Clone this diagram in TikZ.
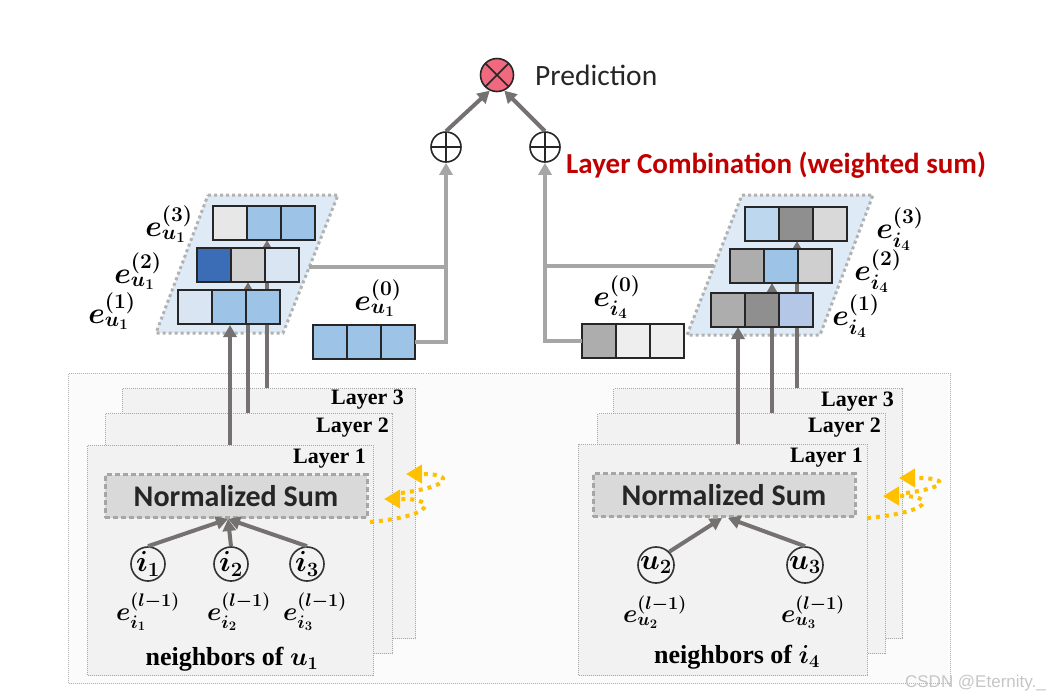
\RequirePackage{fix-cm}
\documentclass[tikz,border=0pt]{standalone}
\usepackage{fontspec}
\usepackage{amsmath}
\usepackage{bm}
\usetikzlibrary{positioning,calc,arrows.meta}
\newfontfamily\calibfont{Carlito}
\newfontfamily\markfont{Liberation Sans}
\newfontfamily\labelfont{Liberation Serif}

\definecolor{blueL}{HTML}{9DC3E6}
\definecolor{blueP}{HTML}{DAE5F3}
\definecolor{blueD}{HTML}{3A6DB5}
\definecolor{blueS}{HTML}{BDD7EE}
\definecolor{blueG}{HTML}{B4C7E7}
\definecolor{grayA}{HTML}{E7E7E7}
\definecolor{grayB}{HTML}{D0D0D0}
\definecolor{grayC}{HTML}{8F8F8F}
\definecolor{grayD}{HTML}{D9D9D9}
\definecolor{grayE}{HTML}{ADADAD}
\definecolor{grayF}{HTML}{CFCFCF}
\definecolor{grayG}{HTML}{EEEEEE}
\definecolor{stackfill}{HTML}{DEEBF7}
\definecolor{sumfill}{HTML}{D9D9D9}
\definecolor{sumedge}{HTML}{A6A6A6}
\definecolor{arrowgray}{HTML}{767171}
\definecolor{combgray}{HTML}{A6A6A6}
\definecolor{yellowarr}{HTML}{FFC000}
\definecolor{predfill}{HTML}{F0697E}
\definecolor{combred}{HTML}{C00000}

\tikzset{
  outerbox/.style={draw=gray!60,densely dotted,line width=1pt,fill=gray!3,inner sep=0pt,anchor=north west},
  layerbox/.style={draw=gray!70,densely dotted,line width=1pt,fill=gray!10,inner sep=0pt,anchor=north west},
  layertext/.style={font=\labelfont\fontsize{22}{24}\selectfont\bfseries,anchor=east,inner sep=0pt},
  sumbox/.style={draw=sumedge,fill=sumfill,line width=3pt,dash pattern=on 5pt off 3pt,minimum width=262pt,minimum height=43pt,font=\calibfont\fontsize{30}{32}\selectfont\bfseries,text=black!85},
  neighb/.style={circle,draw=black!80,line width=1.6pt,minimum size=34pt,inner sep=0pt,font=\fontsize{29}{31}\selectfont},
  elabel/.style={font=\fontsize{30}{32}\selectfont,inner sep=0pt},
  nlabel/.style={font=\fontsize{26}{28}\selectfont,inner sep=0pt},
  nbtext/.style={font=\labelfont\fontsize{26}{28}\selectfont\bfseries,inner sep=0pt},
  embcell/.style={draw=black!85,line width=1.8pt,fill=#1,minimum width=34pt,minimum height=34pt,inner sep=0pt,outer sep=0pt},
  stackbg/.style={draw=gray!60,fill=stackfill,line width=3pt,dash pattern=on 3pt off 3pt},
  uparrow/.style={draw=arrowgray,line width=4pt,-{Triangle[width=13pt,length=12pt]}},
  combline/.style={draw=combgray,line width=4pt},
  yellowarrow/.style={draw=yellowarr,line width=4pt,dash pattern=on 4pt off 5pt,-{Triangle[width=18pt,length=16pt]}},
  opnode/.style={circle,draw=black!85,line width=1.6pt,minimum size=30pt,inner sep=0pt},
}

\newcommand{\embrow}[5]{
\node [embcell=#3,anchor=west] (#1-1) at (#2) {};
\node [embcell=#4,right=0pt of #1-1] (#1-2) {};
\node [embcell=#5,right=0pt of #1-2] (#1-3) {};
}

\begin{document}
\begin{tikzpicture}[x=1pt,y=-1pt]
\fill [white] (0,0) rectangle (1060,697);
\useasboundingbox (0,0) rectangle (1060,697);

\node [outerbox,minimum width=882pt,minimum height=310pt] (outer) at (68,373) {};

\begin{scope}
\node [layerbox,minimum width=293pt,minimum height=250pt] (uL3) at (122,388) {};
\node [layerbox,minimum width=287pt,minimum height=240pt] (uL2) at (105,413) {};
\node [layerbox,minimum width=286pt,minimum height=230pt] (uL1) at (87,445) {};
\node [layertext] (uL3t) at ([xshift=-12pt,yshift=-12pt]uL3.north east) {Layer 3};
\node [layertext] (uL2t) at ([xshift=-4pt,yshift=-15pt]uL2.north east) {Layer 2};
\node [layertext] (uL1t) at ([xshift=-8pt,yshift=-14pt]uL1.north east) {Layer 1};

\node [sumbox] (uNS) at (236,496) {Normalized Sum};
\node [neighb] (i1) at (148,564) {$\bm{i_1}$};
\node [neighb] (i2) at (231,564) {$\bm{i_2}$};
\node [neighb] (i3) at (307,564) {$\bm{i_3}$};
\draw [uparrow] (i1.north) -- ([xshift=-8pt]uNS.south);
\draw [uparrow] (i2.north) -- ([xshift=-8pt]uNS.south);
\draw [uparrow] (i3.north) -- ([xshift=-8pt]uNS.south);
\node [nlabel] (ei1) at (148,612) {$\bm{e}_{\bm{i_1}}^{\bm{(l-1)}}$};
\node [nlabel] (ei2) at (239,612) {$\bm{e}_{\bm{i_2}}^{\bm{(l-1)}}$};
\node [nlabel] (ei3) at (315,612) {$\bm{e}_{\bm{i_3}}^{\bm{(l-1)}}$};
\node [nbtext] (uNb) at (232,659) {neighbors of $\bm{u_1}$};

\path (370,522) coordinate (uY1s);
\path (384,499) coordinate (uY1e);
\path (401,493) coordinate (uY2s);
\path (406,474) coordinate (uY2e);
\draw [yellowarrow] (uY1s) .. controls (436,516) and (436,499) .. (404,499) -- (uY1e);
\draw [yellowarrow] (uY2s) .. controls (454,486) and (452,474) .. (424,474) -- (uY2e);
\end{scope}

\begin{scope}
\node [layerbox,minimum width=289pt,minimum height=250pt] (iL3) at (613,388) {};
\node [layerbox,minimum width=288pt,minimum height=240pt] (iL2) at (597,413) {};
\node [layerbox,minimum width=289pt,minimum height=231pt] (iL1) at (578,444) {};
\node [layertext] (iL3t) at ([xshift=-9pt,yshift=-14pt]iL3.north east) {Layer 3};
\node [layertext] (iL2t) at ([xshift=-5pt,yshift=-15pt]iL2.north east) {Layer 2};
\node [layertext] (iL1t) at ([xshift=-5pt,yshift=-14pt]iL1.north east) {Layer 1};

\node [sumbox] (iNS) at (724,495) {Normalized Sum};
\node [neighb] (u2) at (656,565) {$\bm{u_2}$};
\node [neighb] (u3) at (805,565) {$\bm{u_3}$};
\draw [uparrow] (u2.north east) -- ([xshift=-2pt]iNS.south);
\draw [uparrow] (u3.north) -- ([xshift=4pt]iNS.south);
\node [nlabel] (eu2) at (655,612) {$\bm{e}_{\bm{u_2}}^{\bm{(l-1)}}$};
\node [nlabel] (eu3) at (813,612) {$\bm{e}_{\bm{u_3}}^{\bm{(l-1)}}$};
\node [nbtext] (iNb) at (737,657) {neighbors of $\bm{i_4}$};

\path (867,518) coordinate (iY1s);
\path (883,496) coordinate (iY1e);
\path (906,493) coordinate (iY2s);
\path (899,478) coordinate (iY2e);
\draw [yellowarrow] (iY1s) .. controls (934,512) and (934,496) .. (903,496) -- (iY1e);
\draw [yellowarrow] (iY2s) .. controls (950,487) and (948,478) .. (918,478) -- (iY2e);
\end{scope}

\path (208,195) coordinate (uP1);
\path (338,195) coordinate (uP2);
\path (283,333) coordinate (uP3);
\path (156,333) coordinate (uP4);
\draw [stackbg] (uP1) -- (uP2) -- (uP3) -- (uP4) -- cycle;
\path ($(uP2)!0.52!(uP3)$) coordinate (uPo);

\path (742,195) coordinate (iP1);
\path (873,195) coordinate (iP2);
\path (820,335) coordinate (iP3);
\path (687,335) coordinate (iP4);
\draw [stackbg] (iP1) -- (iP2) -- (iP3) -- (iP4) -- cycle;
\path ($(iP1)!0.51!(iP4)$) coordinate (iPo);

\path (230,0) coordinate (uA1);
\path (248,0) coordinate (uA2);
\path (267,0) coordinate (uA3);
\path (738,0) coordinate (iA1);
\path (772,0) coordinate (iA2);
\path (797,0) coordinate (iA3);
\draw [uparrow] (uA1 |- uL1.north) -- (uA1 |- 0,325);
\draw [uparrow] (uA2 |- uL2.north) -- (uA2 |- 0,282);
\draw [uparrow] (uA3 |- uL3.north) -- (uA3 |- 0,240);
\draw [uparrow] (iA1 |- iL1.north) -- (iA1 |- 0,327);
\draw [uparrow] (iA2 |- iL2.north) -- (iA2 |- 0,283);
\draw [uparrow] (iA3 |- iL3.north) -- (iA3 |- 0,241);

\embrow{uR3}{213,223}{grayA}{blueL}{blueL}
\embrow{uR2}{197,265}{blueD}{grayB}{blueP}
\embrow{uR1}{178,307}{blueP}{blueL}{blueL}
\embrow{uE0}{313,342}{blueL}{blueL}{blueL}
\embrow{iR3}{745,224}{blueS}{grayC}{grayD}
\embrow{iR2}{730,266}{grayE}{blueL}{grayF}
\embrow{iR1}{711,310}{grayE}{grayC}{blueG}
\embrow{iE0}{582,341}{grayE}{grayG}{grayG}

\node [elabel] (uE3lab) at (169,224) {$\bm{e}_{\bm{u_1}}^{\bm{(3)}}$};
\node [elabel] (uE2lab) at (138,271) {$\bm{e}_{\bm{u_1}}^{\bm{(2)}}$};
\node [elabel] (uE1lab) at (112,311) {$\bm{e}_{\bm{u_1}}^{\bm{(1)}}$};
\node [elabel] (uE0lab) at (378,298) {$\bm{e}_{\bm{u_1}}^{\bm{(0)}}$};
\node [elabel] (iE3lab) at (900,229) {$\bm{e}_{\bm{i_4}}^{\bm{(3)}}$};
\node [elabel] (iE2lab) at (878,271) {$\bm{e}_{\bm{i_4}}^{\bm{(2)}}$};
\node [elabel] (iE1lab) at (856,316) {$\bm{e}_{\bm{i_4}}^{\bm{(1)}}$};
\node [elabel] (iE0lab) at (617,297) {$\bm{e}_{\bm{i_4}}^{\bm{(0)}}$};

\node [opnode,path picture={\draw [line width=1.6pt,black!85] (path picture bounding box.north) -- (path picture bounding box.south) (path picture bounding box.west) -- (path picture bounding box.east);}] (uPlus) at (446,147) {};
\node [opnode,path picture={\draw [line width=1.6pt,black!85] (path picture bounding box.north) -- (path picture bounding box.south) (path picture bounding box.west) -- (path picture bounding box.east);}] (iPlus) at (545,147) {};
\node [opnode,fill=predfill,minimum size=33pt,path picture={\draw [line width=1.6pt,black!85] (path picture bounding box.north west) -- (path picture bounding box.south east) (path picture bounding box.south west) -- (path picture bounding box.north east);}] (pred) at (497,75) {};

\draw [combline] (uPo) -- (uPo -| uPlus);
\draw [combline,-{Triangle[width=13pt,length=12pt]}] (uE0-3.east) -| (uPlus.south);
\draw [combline] (iPo) -- (iPo -| iPlus);
\draw [combline,-{Triangle[width=13pt,length=12pt]}] (iE0-1.west) -| (iPlus.south);
\draw [uparrow] (uPlus.north) -- (pred.-115);
\draw [uparrow] (iPlus.north) -- (pred.-65);

\node [font=\calibfont\fontsize{29.5}{31}\selectfont,text=black!85,anchor=west,inner sep=0pt] (predLab) at (535,75) {Prediction};
\node [font=\calibfont\fontsize{29}{31}\selectfont\bfseries,text=combred,anchor=west,inner sep=0pt] (combLab) at (566,165) {Layer Combination (weighted sum)};
\node [font=\markfont\fontsize{17}{19}\selectfont,text=gray!45,anchor=east,inner sep=0pt] (mark) at (1046,683) {CSDN @Eternity.\_};
\end{tikzpicture}
\end{document}
